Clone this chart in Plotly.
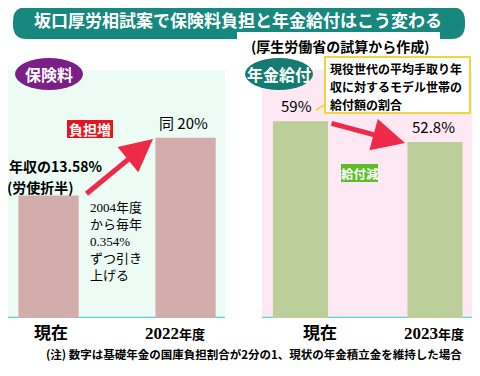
import plotly.graph_objects as go

# ---- data ----
left_categories = ["現在", "2022年度"]
left_values = [13.58, 20]
right_categories = ["現在", "2023年度"]
right_values = [59, 52.8]
left_cat_labels = ["現在", "2022<span style='font-size:13px'>年度</span>"]
right_cat_labels = ["現在", "2023<span style='font-size:13px'>年度</span>"]
note_lines = ["現役世代の平均手取り年", "収に対するモデル世帯の", "給付額の割合"]

W, H = 480, 376
OFF = 8  # page body margin offset
def px(x):
    return (x - OFF) / W
def py(y):
    return 1 - (y - OFF) / H

JP = "Noto Sans CJK JP"
SER = "Liberation Serif, Noto Sans CJK JP"

fig = go.Figure()
fig.add_trace(go.Bar(x=left_categories, y=left_values, width=0.44,
                     marker=dict(color="#d3acac", line=dict(width=0)),
                     xaxis="x", yaxis="y", hoverinfo="skip"))
fig.add_trace(go.Bar(x=right_categories, y=right_values, width=0.41,
                     marker=dict(color="#bccf9a", line=dict(width=0)),
                     xaxis="x2", yaxis="y2", hoverinfo="skip"))

ydom = [py(318), py(70)]
ax_common = dict(showgrid=False, zeroline=False, showticklabels=False, showline=False, ticks="", fixedrange=True)
fig.update_layout(
    width=W, height=H, margin=dict(l=0, r=0, t=0, b=0),
    paper_bgcolor="white", plot_bgcolor="rgba(0,0,0,0)", showlegend=False,
    xaxis=dict(domain=[max(px(8), 0), px(225)], range=[-0.296, 1.288], type="category", **ax_common),
    yaxis=dict(domain=ydom, range=[0, 27.5], **ax_common),
    xaxis2=dict(domain=[px(262), px(472)], range=[-0.286, 1.275], type="category", **ax_common),
    yaxis2=dict(domain=ydom, range=[0, 74.4], anchor="x2", **ax_common),
    font=dict(family=JP, color="black"),
)

shapes = []
# panel backgrounds
shapes.append(dict(type="rect", xref="x domain", yref="y domain", x0=0, x1=1, y0=0, y1=1,
                   fillcolor="#edfbf5", line=dict(width=0), layer="below"))
shapes.append(dict(type="rect", xref="x2 domain", yref="y2 domain", x0=0, x1=1, y0=0, y1=1,
                   fillcolor="#fde8f3", line=dict(width=0), layer="below"))
# baselines
shapes.append(dict(type="line", xref="x domain", yref="y", x0=0, x1=1, y0=0, y1=0,
                   line=dict(color="#5ad4e0", width=2.5), layer="below"))
shapes.append(dict(type="line", xref="x2 domain", yref="y2", x0=0, x1=1, y0=0, y1=0,
                   line=dict(color="#5ad4e0", width=2.5), layer="below"))
# title banner (rounded), pixel sizemode
x0, x1, y0, y1, r = 13 - OFF, 465 - OFF, 7 - OFF, 39 - OFF, 14
path = (f"M {x0+r},{-y0} L {x1-r},{-y0} Q {x1},{-y0} {x1},{-(y0+r)} L {x1},{-(y1-r)} "
        f"Q {x1},{-y1} {x1-r},{-y1} L {x0+r},{-y1} Q {x0},{-y1} {x0},{-(y1-r)} "
        f"L {x0},{-(y0+r)} Q {x0},{-y0} {x0+r},{-y0} Z")
shapes.append(dict(type="path", xref="paper", yref="paper", xsizemode="pixel", ysizemode="pixel",
                   xanchor=0, yanchor=1, path=path, fillcolor="#17887d", line=dict(width=0)))
# subtitle white box
shapes.append(dict(type="rect", xref="paper", yref="paper", x0=px(237), x1=px(440), y0=py(58), y1=py(32),
                   fillcolor="white", line=dict(width=0)))
# badges
shapes.append(dict(type="circle", xref="paper", yref="paper", x0=px(15), x1=px(83), y0=py(90), y1=py(58),
                   fillcolor="#7b1f87", line=dict(width=0)))
shapes.append(dict(type="circle", xref="paper", yref="paper", x0=px(245), x1=px(313), y0=py(90), y1=py(58),
                   fillcolor="#157b70", line=dict(width=0)))
# yellow note box
shapes.append(dict(type="rect", xref="paper", yref="paper", x0=px(325), x1=px(470), y0=py(113), y1=py(57),
                   fillcolor="white", line=dict(color="#f2d440", width=2)))
shapes.append(dict(type="line", xref="paper", yref="paper", x0=px(326), x1=px(316), y0=py(104), y1=py(110),
                   line=dict(color="#f2d440", width=2)))
# red / green tags
shapes.append(dict(type="rect", xref="paper", yref="paper", x0=px(67), x1=px(113), y0=py(138), y1=py(120),
                   fillcolor="#e8141c", line=dict(width=0)))
shapes.append(dict(type="rect", xref="paper", yref="paper", x0=px(341), x1=px(378), y0=py(182), y1=py(164),
                   fillcolor="#5bbd2a", line=dict(width=0)))
fig.update_layout(shapes=shapes)

ann = []
def A(text, x, y, size, color="black", bold=True, xanchor="center", yanchor="middle", family=JP, align="center"):
    t = f"<b>{text}</b>" if bold else text
    ann.append(dict(text=t, x=px(x), y=py(y), xref="paper", yref="paper", showarrow=False,
                    xanchor=xanchor, yanchor=yanchor, align=align, borderpad=0, borderwidth=0,
                    font=dict(size=size, color=color, family=family)))

A("坂口厚労相試案で保険料負担と年金給付はこう変わる", 238, 20, 17, color="white")
A("(厚生労働省の試算から作成)", 340, 46, 14)
A("保険料", 49, 74, 16, color="white")
A("年金給付", 279, 74, 16, color="white")
A("負担増", 90, 129, 14, color="white")
A("給付減", 359.5, 173, 12.5, color="white")
for line, yy in zip(note_lines, [68.5, 86.5, 104.5]):
    A(line, 330, yy, 12, xanchor="left", align="left")
A("年収の13.58%", 9, 166, 14, xanchor="left")
A("(労使折半)", 7, 187, 14, xanchor="left")
A("2004年度<br>から毎年<br>0.354%<br>ずつ引き<br>上げる", 90, 241, 13, xanchor="left", align="left", bold=False,
  family=SER)
A("(注) 数字は基礎年金の国庫負担割合が2分の1、現状の年金積立金を維持した場合", 254, 354, 11.5)

# value labels tied to data
ann.append(dict(text="同 20%", x=left_categories[1], y=left_values[1], xref="x", yref="y",
                showarrow=False, yanchor="bottom", yshift=3, xshift=-2, font=dict(size=15, family=JP)))
ann.append(dict(text=f"{right_values[0]:g}%", x=right_categories[0], y=right_values[0], xref="x2", yref="y2",
                showarrow=False, yanchor="bottom", yshift=3, xshift=-4, font=dict(size=15, family=JP)))
ann.append(dict(text=f"{right_values[1]:g}%", x=right_categories[1], y=right_values[1], xref="x2", yref="y2",
                showarrow=False, yanchor="bottom", yshift=3, xshift=-2, font=dict(size=15, family=JP)))

# category labels
for cat, lab, xs in zip(left_categories, left_cat_labels, [2, -11]):
    ann.append(dict(text=f"<b>{lab}</b>", x=cat, y=0, xref="x", yref="y", showarrow=False,
                    yanchor="top", yshift=-4, xshift=xs, font=dict(size=17, family=SER)))
for cat, lab, xs in zip(right_categories, right_cat_labels, [20, -1]):
    ann.append(dict(text=f"<b>{lab}</b>", x=cat, y=0, xref="x2", yref="y2", showarrow=False,
                    yanchor="top", yshift=-4, xshift=xs, font=dict(size=17, family=SER)))

# arrows
ann.append(dict(text="", x=px(153), y=py(139), xref="paper", yref="paper", ax=-68, ay=56,
                axref="pixel", ayref="pixel", showarrow=True, arrowhead=2, arrowsize=1.3,
                arrowwidth=5, arrowcolor="#ee2a48"))
ann.append(dict(text="", x=px(405), y=py(143), xref="paper", yref="paper", ax=-75, ay=-20,
                axref="pixel", ayref="pixel", showarrow=True, arrowhead=2, arrowsize=1.3,
                arrowwidth=5, arrowcolor="#ee2a48"))
fig.update_layout(annotations=ann)

fig.write_html("out.html")
